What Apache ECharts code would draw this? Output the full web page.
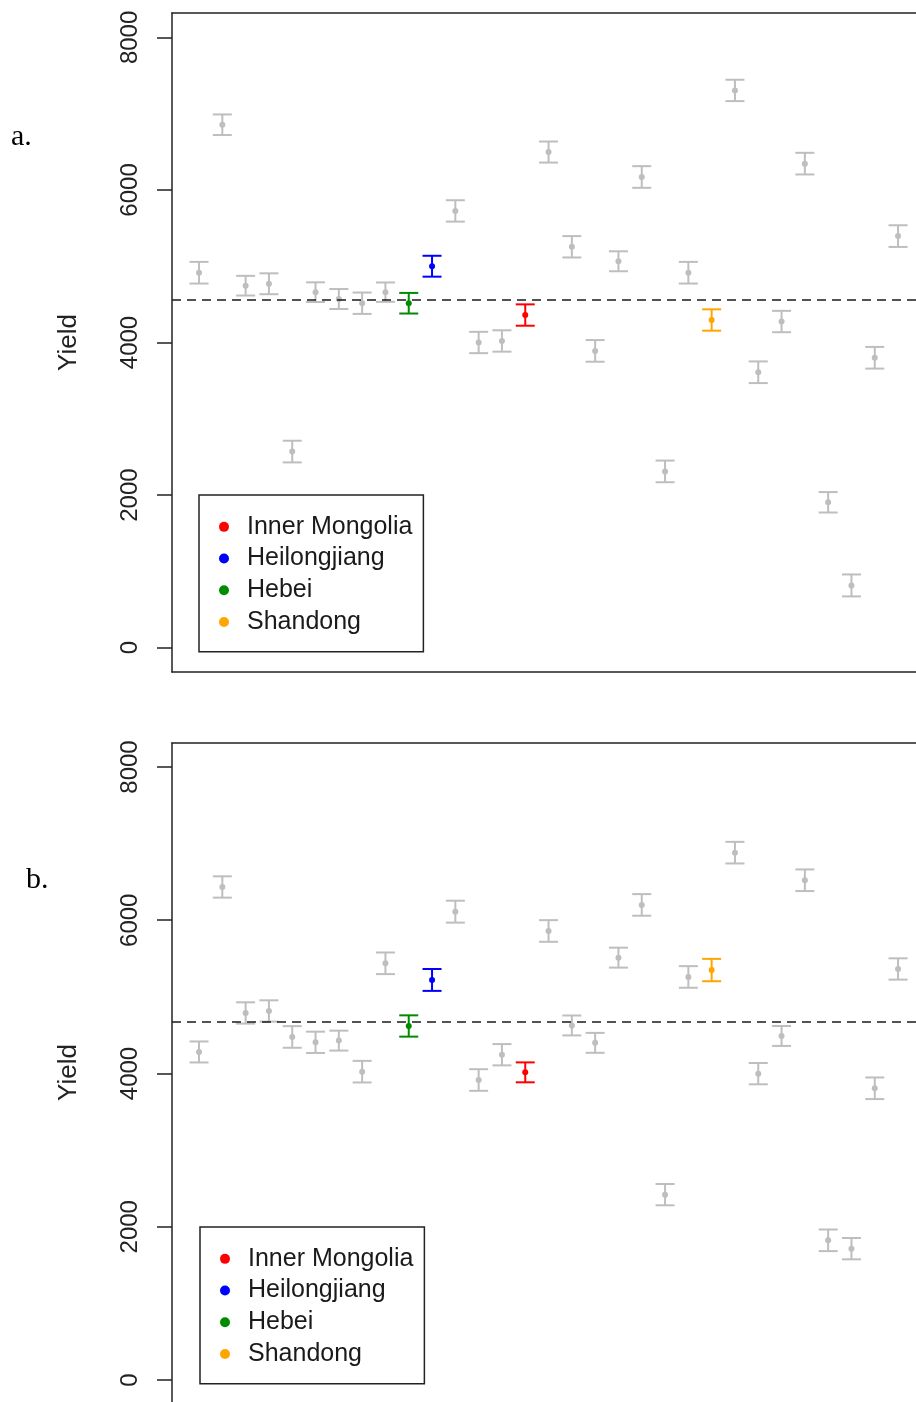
<!DOCTYPE html>
<html>
<head>
<meta charset="utf-8">
<script src="https://cdn.jsdelivr.net/npm/echarts@6/dist/echarts.min.js"></script>
<style>html,body{margin:0;padding:0;background:#fff}#c{width:916px;height:1402px}</style>
</head>
<body>
<div id="c"></div>
<script>
// ---- data ----
var positions = [1,2,3,4,5,6,7,8,9,10,11,12,13,14,15,16,17,18,19,20,21,22,23,24,25,26,27,28,29,30,31];
var yieldA = [4915,6855,4745,4770,2570,4660,4570,4515,4660,4515,5000,5725,4000,4020,4360,6497,5255,3890,5065,6170,2310,4915,4295,7305,3610,4275,6345,1905,815,3800,5395];
var seA    = [142,135,129,137,142,129,131,140,127,135,137,140,140,140,140,138,140,142,131,142,142,142,140,140,142,140,142,134,144,142,142];
var yieldB = [4281,6434,4790,4816,4477,4407,4429,4024,5438,4620,5221,6112,3915,4245,4015,5860,4627,4400,5512,6200,2419,5260,5350,6882,3998,4490,6522,1823,1714,3807,5364];
var seB    = [137,139,139,139,141,139,130,141,141,139,143,143,141,139,130,141,130,130,130,141,139,141,146,141,139,130,141,141,139,141,139];
var meanA = 4566;
var meanB = 4673;
var regionNames = ['Inner Mongolia','Heilongjiang','Hebei','Shandong'];
var regionIndex = [14, 10, 9, 22];
var regionColors = ['#FF0000','#0000FF','#008B00','#FFA500'];
var greyColor = '#BEBEBE';
var yTicks = [0,2000,4000,6000,8000];
var panelLabels = ['a.','b.'];

// ---- build ----
function colorFor(i){
  var k = regionIndex.indexOf(i);
  return k >= 0 ? regionColors[k] : greyColor;
}
function errSeries(vals, ses, gi){
  var data = positions.map(function(p,i){ return [p, vals[i], ses[i]]; });
  return {
    type:'custom', xAxisIndex:gi, yAxisIndex:gi, z:2, silent:true,
    data:data,
    renderItem:function(params, api){
      var x = api.value(0), v = api.value(1), s = api.value(2);
      var t = api.coord([x, v + s]), b = api.coord([x, v - s]);
      var hw = 9.5;
      var st = {stroke: colorFor(params.dataIndex), lineWidth: 2};
      return {type:'group', children:[
        {type:'line', shape:{x1:t[0],y1:t[1],x2:b[0],y2:b[1]}, style:st},
        {type:'line', shape:{x1:t[0]-hw,y1:t[1],x2:t[0]+hw,y2:t[1]}, style:st},
        {type:'line', shape:{x1:b[0]-hw,y1:b[1],x2:b[0]+hw,y2:b[1]}, style:st}
      ]};
    }
  };
}
function pointSeries(vals, gi, mean){
  var list = [];
  var greyData = [];
  positions.forEach(function(p,i){ if (regionIndex.indexOf(i) < 0) greyData.push([p, vals[i]]); });
  list.push({
    type:'scatter', xAxisIndex:gi, yAxisIndex:gi, z:3, silent:true,
    symbol:'circle', symbolSize:6, itemStyle:{color:greyColor, opacity:1},
    data:greyData,
    markLine:{silent:true, symbol:['none','none'], label:{show:false},
      lineStyle:{type:[9,6], color:'#1a1a1a', width:1.6},
      data:[{yAxis: mean}]}
  });
  regionNames.forEach(function(n,k){
    var i = regionIndex[k];
    list.push({
      name:n, type:'scatter', xAxisIndex:gi, yAxisIndex:gi, z:4, silent:true,
      symbol:'circle', symbolSize:6, itemStyle:{color:regionColors[k], opacity:1},
      data:[[positions[i], vals[i]]]
    });
  });
  return list;
}
function yAxisFor(gi, mn, mx){
  return {
    type:'value', gridIndex:gi, min:mn, max:mx, position:'left',
    name:'Yield', nameLocation:'middle', nameRotate:90, nameGap:90,
    nameTextStyle:{fontFamily:'Liberation Sans', fontSize:26, color:'#222'},
    axisLine:{show:true, onZero:false, lineStyle:{color:'#222', width:1.5}},
    splitLine:{show:false},
    axisTick:{show:true, inside:false, length:15, customValues:yTicks, lineStyle:{color:'#222', width:1.5}},
    axisLabel:{show:true, rotate:90, margin:30, customValues:yTicks,
      formatter:function(v){ return String(v); },
      fontFamily:'Liberation Sans', fontSize:24, color:'#222'}
  };
}
function xAxisFor(gi, pos, showLine){
  return {type:'value', gridIndex:gi, position:pos, min:-0.16, max:31.77, show:true,
    axisLine:{show:showLine, onZero:false, lineStyle:{color:'#222', width:1.5}},
    axisTick:{show:false}, axisLabel:{show:false}, splitLine:{show:false}};
}
function legendFor(top, left){
  return {
    data:regionNames, orient:'vertical', left:left, top:top,
    icon:'circle', itemWidth:10, itemHeight:10, itemGap:0,
    padding:[16,11,14,20], borderColor:'#222', borderWidth:1.5,
    selectedMode:false,
    textStyle:{fontFamily:'Liberation Sans', fontSize:25, color:'#1a1a1a', lineHeight:31.7, padding:[0,0,0,13]}
  };
}

var series = [errSeries(yieldA, seA, 0), errSeries(yieldB, seB, 1)]
  .concat(pointSeries(yieldA, 0, meanA))
  .concat(pointSeries(yieldB, 1, meanB));

var option = {
  animation:false,
  backgroundColor:'#fff',
  title:[
    {text:panelLabels[0], left:11, top:122, padding:0, textStyle:{fontFamily:'Liberation Serif', fontSize:30, fontWeight:'normal', color:'#000'}},
    {text:panelLabels[1], left:26, top:865, padding:0, textStyle:{fontFamily:'Liberation Serif', fontSize:30, fontWeight:'normal', color:'#000'}}
  ],
  grid:[
    {left:172, top:13, width:744, height:659, show:false},
    {left:172, top:743, width:744, height:659, show:false}
  ],
  xAxis:[xAxisFor(0,'bottom',true), xAxisFor(1,'bottom',false), xAxisFor(0,'top',true), xAxisFor(1,'top',true)],
  yAxis:[yAxisFor(0,-320,8320), yAxisFor(1,-287,8313)],
  legend:[legendFor(495, 199), legendFor(1227, 200)],
  series:series
};
var chart = echarts.init(document.getElementById('c'), null, {renderer:'canvas'});
chart.setOption(option);
</script>
</body>
</html>
